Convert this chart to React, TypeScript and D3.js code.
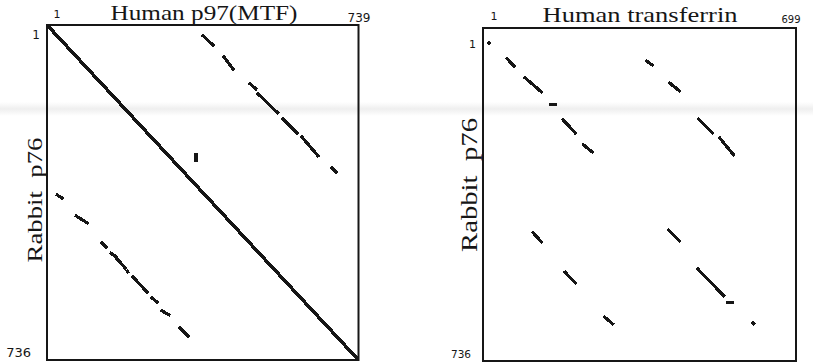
import * as d3 from "d3";

type Seg = [number, number, number, number];

// residue ranges of each sequence
const p97Length = 739;
const transferrinLength = 699;
const p76Length = 736;

// main self-similarity diagonal of p97 vs p76
const p97Diagonal: Seg[] = [[1, 1, 739, 736]];

// off-diagonal matches, p97 (x) vs p76 (y)
const p97Segments: Seg[] = [
  [371, 25, 394, 45],
  [420, 71, 442, 98],
  [482, 130, 496, 141],
  [501, 152, 541, 188],
  [546, 192, 547, 193],
  [560, 207, 593, 238],
  [605, 247, 643, 288],
  [676, 315, 686, 324],
  [354, 286, 354, 297],
  [25, 374, 37, 381],
  [70, 420, 96, 435],
  [131, 479, 141, 488],
  [153, 502, 164, 509],
  [166, 513, 186, 534],
  [191, 541, 192, 543],
  [205, 554, 238, 587],
  [250, 600, 262, 609],
  [273, 628, 290, 637],
  [316, 666, 335, 683],
];

// matches, transferrin (x) vs p76 (y)
const transferrinSegments: Seg[] = [
  [14, 34, 15, 35],
  [55, 69, 70, 85],
  [95, 111, 131, 142],
  [151, 169, 162, 169],
  [180, 204, 207, 233],
  [225, 259, 245, 275],
  [366, 74, 379, 83],
  [417, 122, 439, 140],
  [482, 202, 513, 233],
  [529, 244, 560, 281],
  [113, 453, 131, 473],
  [184, 540, 207, 564],
  [272, 639, 290, 654],
  [415, 447, 439, 471],
  [480, 533, 538, 592],
  [547, 606, 558, 606],
  [603, 652, 604, 653],
];

const serif = "'Liberation Serif', 'DejaVu Serif', serif";
const sans = "'DejaVu Sans', 'Liberation Sans', sans-serif";
const ink = "#161616";

interface PanelProps {
  title: string;
  titleX: number;
  titleY: number;
  titleLen: number;
  xMax: number;
  box: { x0: number; x1: number; y0: number; y1: number };
  segs: Seg[];
  diag?: Seg[];
  labels: {
    top1: [number, number, number];
    topEnd: [number, number, number];
    left1: [number, number, number];
    leftEnd: [number, number, number];
  };
  yLabel: { x: number; y: number; len: number; size: number };
}

const Panel = ({ title, titleX, titleY, titleLen, xMax, box, segs, diag, labels, yLabel }: PanelProps) => {
  const x = d3.scaleLinear().domain([1, xMax]).range([box.x0, box.x1]);
  const y = d3.scaleLinear().domain([1, p76Length]).range([box.y0, box.y1]);

  return (
    <g>
      <rect
        x={box.x0}
        y={box.y0}
        width={box.x1 - box.x0}
        height={box.y1 - box.y0}
        fill="none"
        stroke={ink}
        strokeWidth={2}
      />
      {(diag || []).map((d, i) => (
        <line
          key={"d" + i}
          x1={x(d[0])}
          y1={y(d[1])}
          x2={x(d[2])}
          y2={y(d[3])}
          stroke={ink}
          strokeWidth={3.5}
          shapeRendering="crispEdges"
        />
      ))}
      {segs.map((d, i) => (
        <line
          key={i}
          x1={x(d[0])}
          y1={y(d[1])}
          x2={x(d[2])}
          y2={y(d[3])}
          stroke={ink}
          strokeWidth={3.2}
          strokeLinecap="square"
          shapeRendering="crispEdges"
        />
      ))}
      <text
        x={titleX}
        y={titleY}
        textAnchor="middle"
        fontFamily={serif}
        fontSize={21}
        textLength={titleLen}
        lengthAdjust="spacingAndGlyphs"
        fill={ink}
      >
        {title}
      </text>
      <text x={labels.top1[0]} y={labels.top1[1]} fontFamily={sans} fontSize={labels.top1[2]} textAnchor="middle" fill={ink}>
        1
      </text>
      <text x={labels.topEnd[0]} y={labels.topEnd[1]} fontFamily={sans} fontSize={labels.topEnd[2]} textAnchor="middle" fill={ink}>
        {xMax}
      </text>
      <text x={labels.left1[0]} y={labels.left1[1]} fontFamily={sans} fontSize={labels.left1[2]} textAnchor="end" fill={ink}>
        1
      </text>
      <text x={labels.leftEnd[0]} y={labels.leftEnd[1]} fontFamily={sans} fontSize={labels.leftEnd[2]} textAnchor="end" fill={ink}>
        {p76Length}
      </text>
      <text
        transform={`translate(${yLabel.x},${yLabel.y}) rotate(-90)`}
        textAnchor="middle"
        fontFamily={serif}
        fontSize={yLabel.size}
        textLength={yLabel.len}
        lengthAdjust="spacingAndGlyphs"
        fill={ink}
      >
        {"Rabbit\u00a0\u00a0p76"}
      </text>
    </g>
  );
};

const App = () => {
  const width = 813;
  const height = 363;
  return (
    <svg
      width={width}
      height={height}
      style={{ position: "absolute", left: 0, top: 0, background: "#fff" }}
    >
      <defs>
        <linearGradient id="scanband" x1="0" y1="0" x2="0" y2="1">
          <stop offset="0" stopColor="#e4e4e4" stopOpacity={0} />
          <stop offset="0.5" stopColor="#e4e4e4" stopOpacity={0.6} />
          <stop offset="1" stopColor="#e4e4e4" stopOpacity={0} />
        </linearGradient>
      </defs>
      <rect x={0} y={102} width={width} height={14} fill="url(#scanband)" />
      <Panel
        title="Human p97(MTF)"
        titleX={204}
        titleY={20}
        titleLen={187}
        xMax={p97Length}
        box={{ x0: 47, x1: 358.5, y0: 25, y1: 360 }}
        segs={p97Segments}
        diag={p97Diagonal}
        labels={{
          top1: [57, 18, 11],
          topEnd: [359, 22, 12],
          left1: [40, 39, 12],
          leftEnd: [31, 357, 13],
        }}
        yLabel={{ x: 42, y: 200, len: 125, size: 22 }}
      />
      <Panel
        title="Human transferrin"
        titleX={640}
        titleY={22}
        titleLen={195}
        xMax={transferrinLength}
        box={{ x0: 483, x1: 796, y0: 28, y1: 361 }}
        segs={transferrinSegments}
        labels={{
          top1: [494, 20, 11],
          topEnd: [791, 23, 10],
          left1: [476, 48, 11],
          leftEnd: [471, 358, 10.5],
        }}
        yLabel={{ x: 477, y: 185, len: 134, size: 23 }}
      />
    </svg>
  );
};

export default App;
